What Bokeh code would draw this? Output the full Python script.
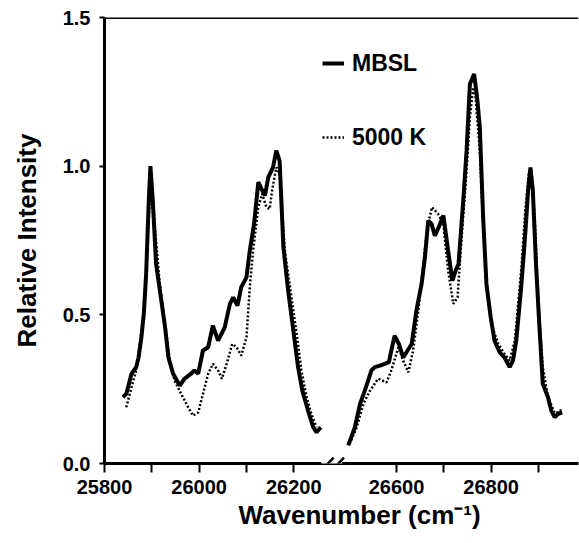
from bokeh.plotting import figure
from bokeh.models import FixedTicker, Span, Arrow, Legend, LegendItem, Range1d, Title
from bokeh.embed import file_html
from bokeh.resources import INLINE

# ---- data (wavenumber in cm-1, relative intensity) ----
BREAK_AT = 26350        # the axis is broken between the two spectral windows
BREAK_OFFSET = 183      # cm-1 hidden by the axis break

mbsl_left_x = [25839, 25846, 25857, 25867, 25872, 25878, 25883, 25888, 25893, 25897,
               25902, 25909, 25920, 25928, 25935, 25945, 25959, 25969, 25983, 25990,
               25998, 26008, 26019, 26029, 26040, 26054, 26065, 26072, 26081, 26089,
               26100, 26107, 26116, 26125, 26132, 26139, 26146, 26156, 26163, 26170,
               26178, 26188, 26199, 26209, 26218, 26230, 26241, 26248, 26257]
mbsl_left_y = [0.223, 0.234, 0.301, 0.324, 0.357, 0.425, 0.503, 0.638, 0.862, 1.000,
               0.884, 0.671, 0.548, 0.458, 0.357, 0.302, 0.262, 0.285, 0.302, 0.313,
               0.302, 0.380, 0.391, 0.464, 0.413, 0.458, 0.537, 0.559, 0.531, 0.593,
               0.626, 0.716, 0.806, 0.946, 0.923, 0.901, 0.962, 0.996, 1.052, 1.018,
               0.727, 0.582, 0.447, 0.324, 0.245, 0.178, 0.122, 0.105, 0.122]

k5000_left_x = [25846, 25857, 25867, 25885, 25893, 25899, 25906, 25916, 25927, 25938,
                25948, 25962, 25977, 25987, 25998, 26008, 26019, 26029, 26040, 26048,
                26058, 26070, 26079, 26089, 26100, 26107, 26114, 26125, 26133, 26142,
                26149, 26154, 26163, 26170, 26181, 26195, 26206, 26216, 26227, 26237,
                26248]
k5000_left_y = [0.189, 0.256, 0.313, 0.525, 0.806, 0.974, 0.806, 0.615, 0.481, 0.346,
                0.279, 0.234, 0.189, 0.161, 0.172, 0.234, 0.302, 0.335, 0.313, 0.285,
                0.335, 0.402, 0.391, 0.363, 0.425, 0.593, 0.716, 0.862, 0.907, 0.862,
                0.856, 0.918, 0.996, 0.974, 0.716, 0.559, 0.436, 0.313, 0.223, 0.167,
                0.122]

mbsl_right_x = [26498, 26512, 26523, 26533, 26540, 26547, 26554, 26565, 26575, 26584,
                26589, 26596, 26605, 26614, 26621, 26632, 26642, 26653, 26660, 26667,
                26674, 26681, 26689, 26699, 26709, 26718, 26725, 26731, 26741, 26748,
                26755, 26764, 26771, 26776, 26783, 26790, 26799, 26807, 26818, 26828,
                26839, 26846, 26853, 26864, 26872, 26878, 26883, 26888, 26895, 26902,
                26909, 26920, 26927, 26934, 26942, 26950]
mbsl_right_y = [0.061, 0.122, 0.201, 0.245, 0.279, 0.313, 0.324, 0.329, 0.335, 0.341,
                0.380, 0.430, 0.402, 0.357, 0.374, 0.402, 0.514, 0.604, 0.693, 0.817,
                0.806, 0.766, 0.794, 0.834, 0.716, 0.615, 0.649, 0.671, 0.884, 1.052,
                1.276, 1.310, 1.220, 1.130, 0.828, 0.604, 0.492, 0.413, 0.374, 0.357,
                0.324, 0.346, 0.413, 0.604, 0.772, 0.918, 0.996, 0.918, 0.660, 0.458,
                0.268, 0.223, 0.178, 0.156, 0.167, 0.172]

k5000_right_x = [26501, 26516, 26530, 26544, 26561, 26579, 26589, 26604, 26614, 26625,
                 26635, 26646, 26656, 26665, 26675, 26688, 26699, 26709, 26720, 26729,
                 26737, 26746, 26755, 26762, 26767, 26776, 26783, 26790, 26800, 26815,
                 26828, 26839, 26850, 26864, 26872, 26880, 26885, 26892, 26900, 26909,
                 26920, 26929, 26936, 26942, 26950]
k5000_right_y = [0.066, 0.122, 0.201, 0.245, 0.285, 0.273, 0.313, 0.391, 0.346, 0.307,
                 0.380, 0.514, 0.660, 0.794, 0.862, 0.839, 0.806, 0.649, 0.537, 0.559,
                 0.750, 0.940, 1.164, 1.265, 1.231, 1.052, 0.806, 0.604, 0.470, 0.402,
                 0.369, 0.346, 0.413, 0.660, 0.850, 0.985, 0.974, 0.828, 0.537, 0.324,
                 0.223, 0.189, 0.161, 0.178, 0.178]

x_major_ticks = [25800, 26000, 26200, 26600, 26800]
x_minor_ticks = [25900, 26100, 26700, 26900]
y_ticks = [0.0, 0.5, 1.0, 1.5]

X_TITLE = "Wavenumber (cm\u207b\u00b9)"
Y_TITLE = "Relative Intensity"


def squeeze(xs):
    """Map real wavenumbers onto the broken axis."""
    return [x - BREAK_OFFSET if x > BREAK_AT else x for x in xs]


FONT = "Liberation Sans"

p = figure(frame_width=474, frame_height=446,
           x_range=Range1d(25800, 26801.5), y_range=Range1d(0, 1.5),
           output_backend="svg", toolbar_location=None,
           min_border_left=104, min_border_top=17, min_border_right=1,
           min_border_bottom=75)
p.outline_line_color = None
p.background_fill_color = "white"
p.border_fill_color = "white"
p.xgrid.visible = False
p.ygrid.visible = False

# curves
r_m1 = p.line(squeeze(mbsl_left_x), mbsl_left_y, line_color="black", line_width=4)
r_m2 = p.line(squeeze(mbsl_right_x), mbsl_right_y, line_color="black", line_width=4)
r_k1 = p.line(squeeze(k5000_left_x), k5000_left_y, line_color="black",
              line_width=2.5, line_dash="2 2")
r_k2 = p.line(squeeze(k5000_right_x), k5000_right_y, line_color="black",
              line_width=2.5, line_dash="2 2")

# x axis
xa = p.xaxis[0]
xa.ticker = FixedTicker(ticks=squeeze(x_major_ticks), minor_ticks=squeeze(x_minor_ticks))
xa.major_label_overrides = {sx: str(x) for sx, x in zip(squeeze(x_major_ticks), x_major_ticks)}
xa.axis_line_width = 3
xa.major_tick_line_width = 2
xa.minor_tick_line_width = 2
xa.major_tick_out = 9
xa.major_tick_in = 0
xa.minor_tick_out = 9
xa.minor_tick_in = 0
xa.major_label_standoff = 7

# y axis
ya = p.yaxis[0]
ya.ticker = FixedTicker(ticks=y_ticks)
ya.major_label_overrides = {t: f"{t:.1f}" for t in y_ticks}
ya.axis_label = Y_TITLE
ya.axis_line_width = 3
ya.major_tick_line_width = 2
ya.major_tick_out = 5
ya.major_tick_in = 0
ya.minor_tick_line_color = None
ya.major_label_standoff = 9
ya.axis_label_standoff = 18

for ax in (xa, ya):
    ax.major_label_text_font = FONT
    ax.major_label_text_font_style = "bold"
    ax.major_label_text_font_size = "20px"
    ax.major_label_text_color = "black"
    ax.axis_label_text_font = FONT
    ax.axis_label_text_font_style = "bold"
    ax.axis_label_text_font_size = "26px"
    ax.axis_label_text_color = "black"
    ax.axis_line_color = "black"
    ax.major_tick_line_color = "black"
xa.minor_tick_line_color = "black"

# x-axis title (placed slightly right of centre like the original)
p.add_layout(Title(text=X_TITLE, align="left", offset=134, standoff=2,
                   text_font=FONT, text_font_style="bold",
                   text_font_size="26px", text_color="black"), "below")

# top border line
p.add_layout(Span(location=1.5, dimension="width", line_color="black", line_width=3))

# axis break marks
bx = 26280
p.add_layout(Arrow(end=None, x_start=bx - 22, y_start=0, x_end=bx + 22, y_end=0,
                   line_color="white", line_width=7))
for dx in (-11, 11):
    p.add_layout(Arrow(end=None, x_start=bx + dx - 15, y_start=-0.031,
                       x_end=bx + dx + 15, y_end=0.02,
                       line_color="black", line_width=2.5))

# legend
legend = Legend(items=[LegendItem(label="MBSL", renderers=[r_m1]),
                       LegendItem(label="5000 K", renderers=[r_k1])],
                location=(218, 311), orientation="vertical",
                padding=0, margin=0, spacing=44,
                glyph_width=22, glyph_height=30, label_height=30,
                label_standoff=8, border_line_color=None,
                background_fill_alpha=0,
                label_text_font=FONT, label_text_font_style="bold",
                label_text_font_size="23px", label_text_color="black")
p.add_layout(legend)

open("out.html", "w").write(file_html(p, INLINE))
